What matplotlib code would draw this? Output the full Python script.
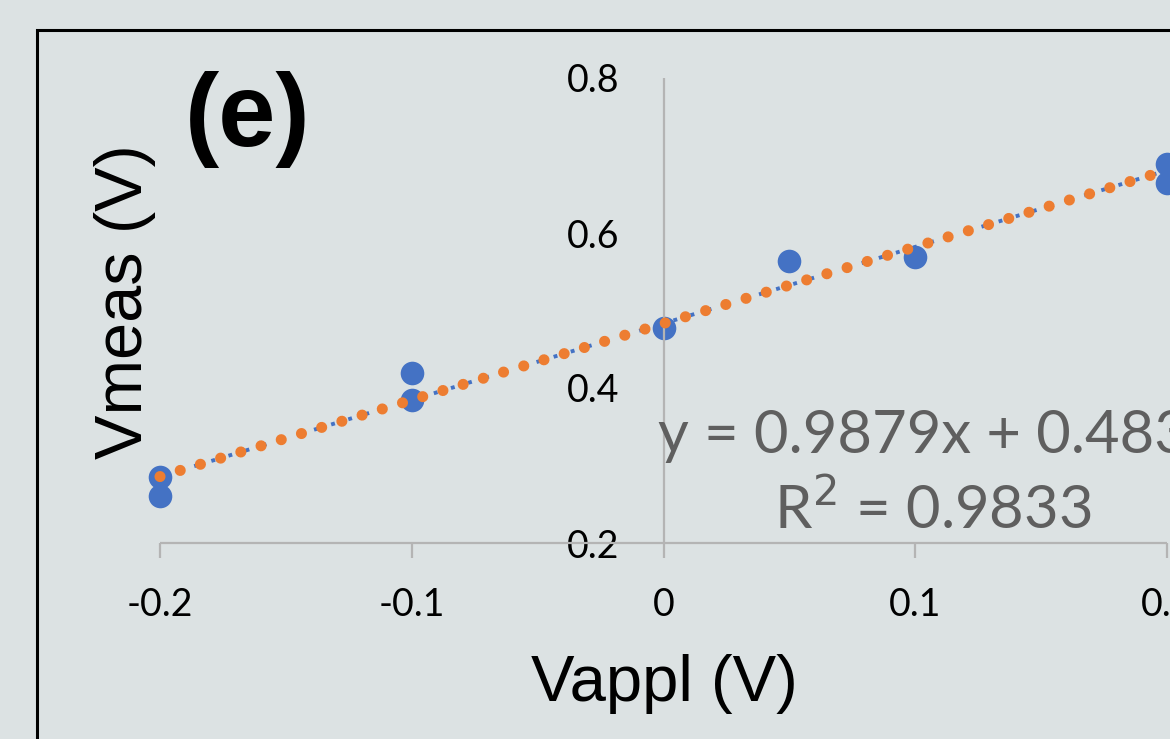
import numpy as np
import matplotlib
matplotlib.use('Agg')
import matplotlib.pyplot as plt
from matplotlib.patches import Rectangle

vappl = [-0.2, -0.2, -0.1, -0.1, 0.0, 0.05, 0.1, 0.2, 0.2]
vmeas = [0.2855, 0.261, 0.419, 0.385, 0.478, 0.564, 0.569, 0.689, 0.665]

# linear trendline as printed on the chart
slope = 0.9879
intercept = 0.4833
r_squared = 0.9833

x_ticks = [-0.2, -0.1, 0, 0.1, 0.2]
x_tick_labels = ['-0.2', '-0.1', '0', '0.1', '0.2']
y_ticks = [0.2, 0.4, 0.6, 0.8]
y_tick_labels = ['0.2', '0.4', '0.6', '0.8']

bg = '#dce2e3'
axis_gray = '#b4b4b4'
tick_font = 'Lato'

fig = plt.figure(figsize=(11.7, 7.39), dpi=100, facecolor=bg)
W, H = 1170, 739
ax = fig.add_axes([160 / W, 1 - 543 / H, (1167 - 160) / W, (543 - 78) / H])
ax.set_facecolor('none')
ax.set_xlim(-0.2, 0.2)
ax.set_ylim(0.2, 0.8)

# trendline: blue dotted under orange round dots
fit_x = np.array([min(vappl), max(vappl)])
fit_y = slope * fit_x + intercept
ax.plot(fit_x, fit_y, color='#4472c4', lw=2.8, dashes=(1, 3.6),
        dash_capstyle='butt', zorder=3, clip_on=False)
ax.plot(fit_x, fit_y, color='#ed7d31', lw=8, dashes=(0.001, 1.9),
        dash_capstyle='round', zorder=4, clip_on=False)

ax.plot(vappl, vmeas, 'o', color='#4472c4', ms=17, mec='none', zorder=2,
        clip_on=False)

# axes styling: vertical axis crosses at x = 0
for s in ['top', 'right']:
    ax.spines[s].set_visible(False)
ax.spines['left'].set_position(('data', 0))
for s in ['left', 'bottom']:
    ax.spines[s].set_color(axis_gray)
    ax.spines[s].set_linewidth(1.6)
    ax.spines[s].set_capstyle('butt')

ax.set_xticks(x_ticks)
ax.set_xticklabels(x_tick_labels, fontfamily=tick_font, fontsize=27)
ax.set_yticks(y_ticks)
ax.set_yticklabels(y_tick_labels, fontfamily=tick_font, fontsize=27)
ax.tick_params(axis='x', direction='out', length=11, width=1.6,
               color=axis_gray, pad=21, labelcolor='black')
ax.tick_params(axis='y', length=0, pad=32, labelcolor='black')

ax.text(-0.002, 0.338, 'y = %.4fx + %.4f' % (slope, intercept),
        fontfamily=tick_font, fontsize=43, color='#5f5f5f',
        ha='left', va='center', zorder=5)
ax.text(0.107, 0.243, 'R$^2$ = %.4f' % r_squared,
        fontfamily=tick_font, fontsize=43, color='#5f5f5f',
        ha='center', va='center', zorder=5)

fig.text(125 / W, 1 - 302 / H, 'Vmeas (V)', rotation=90,
         fontfamily='Liberation Sans', fontsize=48, ha='center', va='center')
fig.text(664 / W, 1 - 684 / H, 'Vappl (V)',
         fontfamily='Liberation Sans', fontsize=47, ha='center', va='center')
fig.text(248 / W, 1 - 119 / H, '(e)', fontfamily='Liberation Sans',
         fontweight='bold', fontsize=74, ha='center', va='center')

# black frame around the panel (runs off the right and bottom edges)
fig.patches.append(Rectangle((37 / W, -0.1), 1.2, 1 - 30 / H + 0.1,
                             transform=fig.transFigure, fill=False,
                             ec='black', lw=2.2, zorder=10))

fig.savefig('out.png', dpi=100, facecolor=bg)
